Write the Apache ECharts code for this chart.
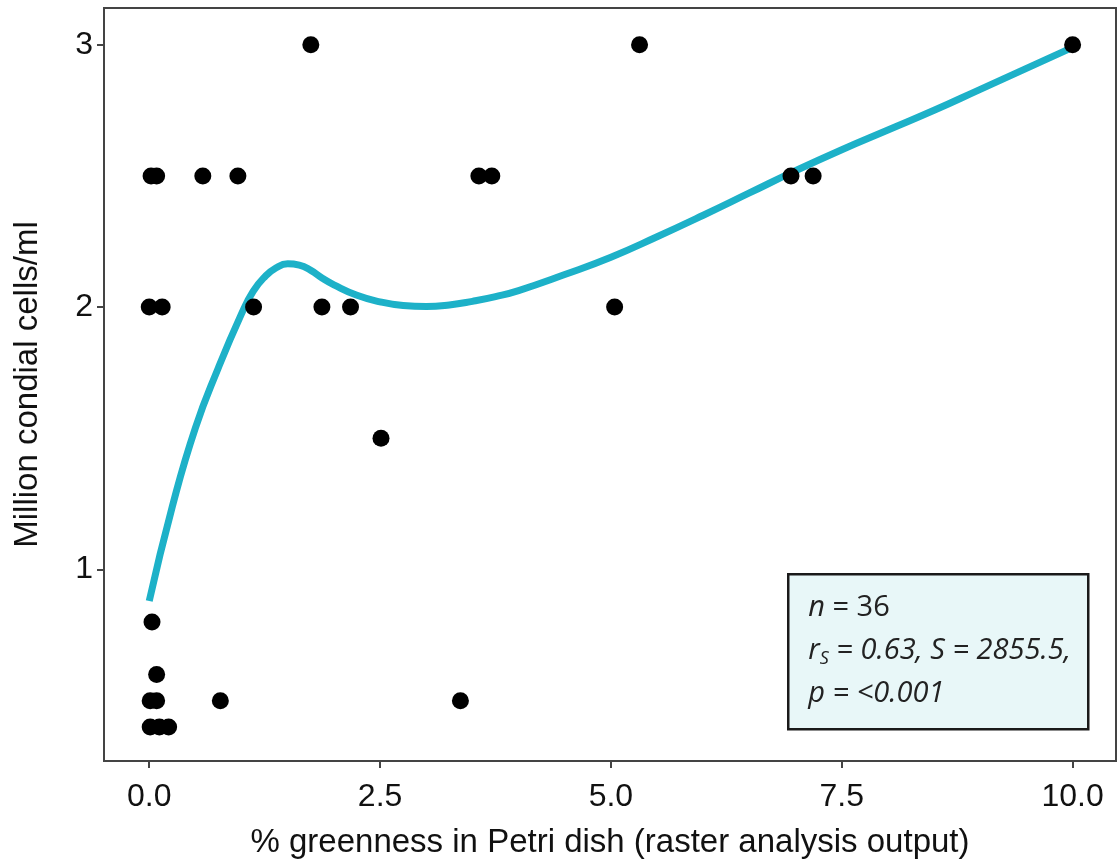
<!DOCTYPE html>
<html>
<head>
<meta charset="utf-8">
<script src="https://cdn.jsdelivr.net/npm/echarts@6/dist/echarts.min.js"></script>
<style>
html,body{margin:0;padding:0;background:#fff;}
#chart{width:1120px;height:864px;}
</style>
</head>
<body>
<div id="chart"></div>
<script>
// Observed points
var pointsX = [1.75, 5.31, 10.0,
  0.02, 0.08, 0.58, 0.96, 3.57, 3.71, 6.95, 7.19,
  0.00, 0.14, 1.13, 1.87, 2.18, 5.04,
  2.51,
  0.03,
  0.08,
  0.01, 0.08, 0.77, 3.37,
  0.01, 0.11, 0.21];
var pointsY = [3, 3, 3,
  2.5, 2.5, 2.5, 2.5, 2.5, 2.5, 2.5, 2.5,
  2, 2, 2, 2, 2, 2,
  1.5,
  0.8,
  0.6,
  0.5, 0.5, 0.5, 0.5,
  0.4, 0.4, 0.4];
// Smoothed trend
var curveX = [0.0, 0.25, 0.5, 0.75, 1.0, 1.125, 1.25, 1.375, 1.5, 1.625, 1.75, 1.875, 2.0, 2.25, 2.5, 2.75, 3.0, 3.25, 3.5, 3.75, 4.0, 4.5, 5.0, 5.5, 6.0, 6.5, 7.0, 7.5, 8.0, 8.5, 9.0, 9.5, 10.0];
var curveY = [0.88, 1.24, 1.54, 1.77, 1.975, 2.06, 2.115, 2.15, 2.165, 2.16, 2.14, 2.11, 2.085, 2.045, 2.02, 2.006, 2.002, 2.008, 2.022, 2.04, 2.063, 2.124, 2.19, 2.268, 2.35, 2.435, 2.52, 2.6, 2.675, 2.75, 2.83, 2.91, 2.99];
var xTicks = [0, 2.5, 5, 7.5, 10];
var yTicks = [1, 2, 3];
var xTitle = '% greenness in Petri dish (raster analysis output)';
var yTitle = 'Million condial cells/ml';

var scatterData = pointsX.map(function (x, i) { return [x, pointsY[i]]; });
var curveData = curveX.map(function (x, i) { return [x, curveY[i]]; });

var chart = echarts.init(document.getElementById('chart'));
var fontFam = '"Liberation Sans", Arial, sans-serif';
chart.setOption({
  animation: false,
  backgroundColor: '#ffffff',
  grid: {
    left: 104, right: 4, top: 8, bottom: 102,
    show: true, borderColor: '#444', borderWidth: 2, backgroundColor: 'transparent'
  },
  xAxis: {
    type: 'value', min: -0.49, max: 10.47,
    splitLine: { show: false },
    axisLine: { show: false, onZero: false },
    axisTick: { show: true, length: 7, customValues: xTicks, lineStyle: { color: '#444', width: 2 } },
    axisLabel: { customValues: xTicks, margin: 20, fontFamily: fontFam, fontSize: 32, color: '#111',
      formatter: function (v) { return v.toFixed(1); } },
    name: xTitle, nameLocation: 'middle', nameGap: 65,
    nameTextStyle: { fontFamily: fontFam, fontSize: 33, color: '#111' }
  },
  yAxis: {
    type: 'value', min: 0.27, max: 3.14,
    splitLine: { show: false },
    axisLine: { show: false, onZero: false },
    axisTick: { show: true, length: 7, customValues: yTicks, lineStyle: { color: '#444', width: 2 } },
    axisLabel: { customValues: yTicks, margin: 11, fontFamily: fontFam, fontSize: 32, color: '#111' },
    name: yTitle, nameLocation: 'middle', nameGap: 60, nameRotate: 90,
    nameTextStyle: { fontFamily: fontFam, fontSize: 33, color: '#111' }
  },
  graphic: [{
    type: 'group', left: 787, top: 573,
    children: [{
      type: 'rect', shape: { x: 0, y: 0, width: 300, height: 155 },
      style: { fill: '#e8f7f8', stroke: '#1a1a1a', lineWidth: 2.5 }
    }, {
      type: 'text', x: 20, y: 12,
      style: {
        text: '{i|n}{u| = 36}\n{i|r}{s|S}{i| = 0.63, S = 2855.5,}\n{i|p = <0.001}',
        rich: {
          i: { fontFamily: '"Open Sans", sans-serif', fontStyle: 'italic', fontSize: 29, lineHeight: 43, fill: '#222' },
          u: { fontFamily: '"Open Sans", sans-serif', fontSize: 29, lineHeight: 43, fill: '#222' },
          s: { fontFamily: '"Open Sans", sans-serif', fontStyle: 'italic', fontSize: 18, lineHeight: 43, padding: [16, 0, 0, 0], fill: '#222' }
        }
      }
    }]
  }],
  series: [{
    type: 'line', data: curveData, smooth: true, symbol: 'none',
    lineStyle: { color: '#1db1c8', width: 7 }, z: 2
  }, {
    type: 'scatter', data: scatterData, symbolSize: 17,
    itemStyle: { color: '#000', opacity: 1 }, z: 3
  }]
});
</script>
</body>
</html>
